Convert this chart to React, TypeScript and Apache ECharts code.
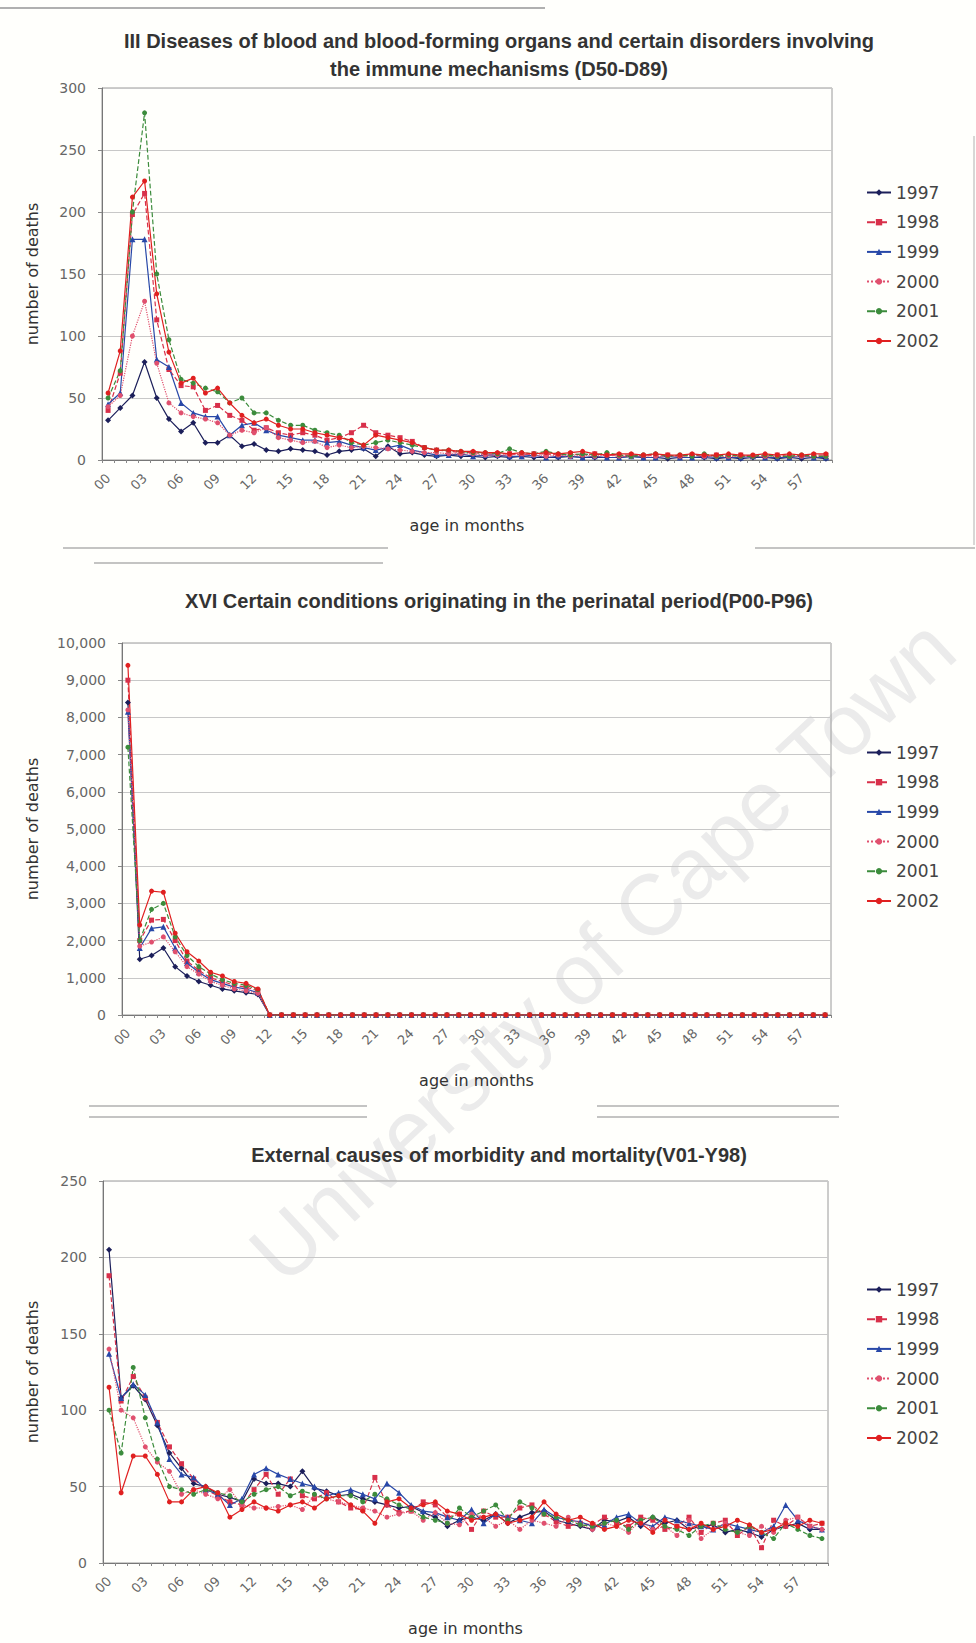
import React, { useEffect, useRef } from "react";
import * as echarts from "echarts";

// ---------- categories & labels ----------
const months = [
  "00","01","02","03","04","05","06","07","08","09",
  "10","11","12","13","14","15","16","17","18","19",
  "20","21","22","23","24","25","26","27","28","29",
  "30","31","32","33","34","35","36","37","38","39",
  "40","41","42","43","44","45","46","47","48","49",
  "50","51","52","53","54","55","56","57","58","59",
];
const years = ["1997", "1998", "1999", "2000", "2001", "2002"];

const titles = [
  "III Diseases of blood and blood-forming organs and certain disorders involving\nthe immune mechanisms (D50-D89)",
  "XVI Certain conditions originating in the perinatal period(P00-P96)",
  "External causes of morbidity and mortality(V01-Y98)",
];
const xName = "age in months";
const yName = "number of deaths";
const watermark = "University of Cape Town";

// ---------- chart 1: D50-D89 ----------
const d1_1997 = [32,42,52,79,50,33,23,30,14,14,20,11,13,8,7,9,8,7,4,7,8,9,3,11,5,6,4,3,4,3,3,2,3,2,3,2,2,2,3,2,2,2,2,3,2,2,1,2,2,2,1,2,1,2,2,1,2,1,2,1];
const d1_1998 = [40,70,198,215,113,73,60,59,40,44,36,32,24,26,22,20,22,20,16,18,22,28,22,20,18,15,10,8,7,6,6,5,5,5,4,5,5,4,5,4,5,4,4,4,3,4,4,3,4,3,4,3,4,3,3,4,3,3,4,4];
const d1_1999 = [45,54,178,178,81,75,46,38,35,35,20,28,30,24,20,18,16,16,14,15,12,10,8,10,12,8,6,4,4,5,3,4,4,3,3,4,2,3,3,2,3,2,2,3,2,2,3,2,2,3,2,2,2,3,2,2,2,3,2,2];
const d1_2000 = [43,52,100,128,78,46,38,35,33,30,20,24,22,26,18,16,14,15,10,12,10,11,10,9,8,7,6,6,5,5,5,4,4,4,5,4,3,4,3,4,3,4,3,3,4,3,3,3,4,3,3,3,3,3,3,3,3,3,3,3];
const d1_2001 = [50,72,200,280,150,97,65,62,58,55,46,50,38,38,32,28,28,24,22,20,14,12,14,16,14,12,10,8,8,7,6,6,5,9,6,5,7,5,4,5,4,6,4,3,4,5,3,4,3,5,3,4,3,3,4,3,3,4,3,3];
const d1_2002 = [54,88,212,225,134,87,62,66,54,58,46,36,30,33,28,25,25,22,20,18,16,12,20,18,16,14,10,8,8,7,7,6,6,5,6,5,6,5,6,7,5,4,5,5,4,5,4,4,5,4,4,5,4,4,5,4,5,4,5,5];

// ---------- chart 2: P00-P96 ----------
const d2_1997 = [8400,1500,1600,1800,1300,1050,900,800,700,650,600,550,0,0,0,0,0,0,0,0,0,0,0,0,0,0,0,0,0,0,0,0,0,0,0,0,0,0,0,0,0,0,0,0,0,0,0,0,0,0,0,0,0,0,0,0,0,0,0,0];
const d2_1998 = [9000,2000,2550,2570,2000,1450,1200,1000,900,800,750,650,0,0,0,0,0,0,0,0,0,0,0,0,0,0,0,0,0,0,0,0,0,0,0,0,0,0,0,0,0,0,0,0,0,0,0,0,0,0,0,0,0,0,0,0,0,0,0,0];
const d2_1999 = [8150,1800,2330,2370,1800,1400,1150,950,850,750,700,600,0,0,0,0,0,0,0,0,0,0,0,0,0,0,0,0,0,0,0,0,0,0,0,0,0,0,0,0,0,0,0,0,0,0,0,0,0,0,0,0,0,0,0,0,0,0,0,0];
const d2_2000 = [8200,1850,1960,2100,1700,1300,1100,900,800,700,650,580,0,0,0,0,0,0,0,0,0,0,0,0,0,0,0,0,0,0,0,0,0,0,0,0,0,0,0,0,0,0,0,0,0,0,0,0,0,0,0,0,0,0,0,0,0,0,0,0];
const d2_2001 = [7200,2000,2840,3000,2100,1600,1300,1100,950,850,800,680,0,0,0,0,0,0,0,0,0,0,0,0,0,0,0,0,0,0,0,0,0,0,0,0,0,0,0,0,0,0,0,0,0,0,0,0,0,0,0,0,0,0,0,0,0,0,0,0];
const d2_2002 = [9400,2420,3330,3300,2200,1700,1450,1150,1050,900,850,700,0,0,0,0,0,0,0,0,0,0,0,0,0,0,0,0,0,0,0,0,0,0,0,0,0,0,0,0,0,0,0,0,0,0,0,0,0,0,0,0,0,0,0,0,0,0,0,0];

// ---------- chart 3: V01-Y98 ----------
const d3_1997 = [205,108,116,107,90,72,62,52,50,45,43,40,55,52,52,50,60,49,47,44,45,42,40,38,36,37,33,30,24,28,30,28,32,26,30,33,34,28,26,24,22,28,27,30,24,30,26,28,22,24,25,20,22,20,17,22,24,26,22,22];
const d3_1998 = [188,106,122,108,92,76,65,55,48,44,40,38,48,58,45,55,44,42,46,40,36,35,56,38,33,34,40,38,30,32,22,34,30,30,36,38,32,27,24,26,25,30,26,24,30,28,22,24,30,20,26,28,18,24,10,28,24,30,24,26];
const d3_1999 = [137,108,117,110,92,68,58,56,48,45,38,42,58,62,58,55,52,50,44,46,48,45,42,52,46,38,34,33,30,28,35,26,32,30,28,26,35,30,28,27,24,25,30,32,26,24,30,28,26,24,22,26,24,22,20,24,38,28,24,22];
const d3_2000 = [140,100,95,76,66,60,45,48,45,42,48,38,36,36,37,38,35,44,42,40,38,36,34,30,32,34,28,33,26,25,32,30,24,28,22,28,26,24,30,25,22,26,24,20,28,22,24,18,28,16,22,26,20,18,24,20,28,30,24,22];
const d3_2001 = [100,72,128,95,68,50,48,45,48,46,44,40,45,48,50,44,47,45,42,44,44,40,45,42,38,35,30,28,26,36,30,34,38,28,40,36,32,30,28,25,24,26,28,22,28,30,24,22,18,24,26,22,20,24,20,16,26,22,18,16];
const d3_2002 = [115,46,70,70,58,40,40,48,50,46,30,35,40,36,34,38,40,36,42,44,38,34,26,40,42,36,38,40,34,32,28,30,32,26,28,30,40,32,28,30,26,22,24,28,26,20,28,24,22,26,22,24,28,25,20,22,26,24,28,26];

const chartData = [
  [d1_1997, d1_1998, d1_1999, d1_2000, d1_2001, d1_2002],
  [d2_1997, d2_1998, d2_1999, d2_2000, d2_2001, d2_2002],
  [d3_1997, d3_1998, d3_1999, d3_2000, d3_2001, d3_2002],
];
const yMax = [300, 10000, 250];
const yInterval = [50, 1000, 50];

// ---------- styles / layout ----------
const COLORS = ["#1c1f5a", "#d8304a", "#2848a8", "#e0506e", "#3c8c3c", "#e02020"];
const SYMBOLS = ["diamond", "rect", "triangle", "circle", "circle", "circle"];
const DASH = ["solid", "dashed", "solid", "dotted", "dashed", "solid"];
const GRIDS = [
  { left: 102, top: 88, width: 730, height: 372 },
  { left: 122, top: 643, width: 709, height: 372 },
  { left: 103, top: 1181, width: 725, height: 382 },
];
const TITLE_TOPS = [22, 582, 1136];
const LEGEND_TOPS = [179, 739, 1276];
const YNAME_GAPS = [62, 82, 63];
const FONT = "DejaVu Sans";

function fmt(v: number) {
  return v >= 1000 ? v.toLocaleString("en-US") : String(v);
}

export default function App() {
  const ref = useRef<HTMLDivElement>(null);
  useEffect(() => {
    if (!ref.current) return;
    const chart = echarts.init(ref.current, null, { renderer: "svg" });

    const series: any[] = [];
    chartData.forEach((set, c) => {
      set.forEach((arr, k) => {
        series.push({
          name: years[k],
          type: "line",
          xAxisIndex: c,
          yAxisIndex: c,
          data: arr,
          symbol: SYMBOLS[k],
          symbolSize: k === 0 || k === 2 ? 6 : 5,
          showSymbol: true,
          itemStyle: { color: COLORS[k] },
          lineStyle: { color: COLORS[k], width: 1.2, type: DASH[k] },
          z: 3,
        });
      });
    });

    const sepLine = (x1: number, y1: number, x2: number, y2: number, w = 1.5) => ({
      type: "line",
      shape: { x1, y1, x2, y2 },
      style: { stroke: "#b0b0b0", lineWidth: w },
      z: 0,
    });

    const option: any = {
      animation: false,
      backgroundColor: "#fffffc",
      title: titles.map((t, i) => ({
        text: t,
        left: 494,
        top: TITLE_TOPS[i],
        textAlign: "center",
        textStyle: {
          fontFamily: "Liberation Sans",
          fontWeight: "bold",
          fontSize: 20,
          lineHeight: 28,
          color: "#333",
        },
      })),
      legend: LEGEND_TOPS.map((top) => ({
        data: years,
        orient: "vertical",
        left: 861,
        top,
        itemWidth: 24,
        itemHeight: 8,
        itemGap: 12.7,
        textStyle: { fontFamily: FONT, fontSize: 17, color: "#444", lineHeight: 16 },
      })),
      grid: GRIDS.map((g) => ({
        ...g,
        show: true,
        borderColor: "#9a9a9a",
        borderWidth: 1,
        backgroundColor: "transparent",
      })),
      xAxis: GRIDS.map((_, c) => ({
        type: "category",
        gridIndex: c,
        data: months,
        boundaryGap: true,
        name: xName,
        nameLocation: "middle",
        nameGap: 57,
        nameTextStyle: { fontFamily: FONT, fontSize: 16, color: "#333" },
        axisLine: { lineStyle: { color: "#777" } },
        axisTick: { show: true, interval: 0, length: 3, lineStyle: { color: "#888" } },
        axisLabel: {
          interval: 2,
          rotate: 45,
          fontFamily: FONT,
          fontSize: 13,
          color: "#666",
          margin: 16,
        },
      })),
      yAxis: GRIDS.map((_, c) => ({
        type: "value",
        gridIndex: c,
        min: 0,
        max: yMax[c],
        interval: yInterval[c],
        name: yName,
        nameLocation: "middle",
        nameGap: YNAME_GAPS[c],
        nameTextStyle: { fontFamily: FONT, fontSize: 16, color: "#333" },
        axisLine: { show: true, lineStyle: { color: "#777" } },
        axisTick: { show: true, length: 4, lineStyle: { color: "#888" } },
        axisLabel: {
          fontFamily: FONT,
          fontSize: 14,
          color: "#666",
          margin: 16,
          formatter: (v: number) => fmt(v),
        },
        splitLine: { show: true, lineStyle: { color: "#c8c8c8", width: 1 } },
      })),
      graphic: [
        {
          type: "text",
          x: 602,
          y: 950,
          rotation: (43 * Math.PI) / 180,
          z: -1,
          style: {
            text: watermark,
            fontFamily: "Liberation Sans",
            fontSize: 86,
            fill: "#ebebeb",
            textAlign: "center",
            textVerticalAlign: "middle",
          },
        },
        sepLine(0, 8, 545, 8, 2),
        sepLine(63, 548, 388, 548),
        sepLine(94, 563, 383, 563),
        sepLine(755, 548, 975, 548),
        sepLine(89, 1106, 367, 1106),
        sepLine(89, 1117, 367, 1117),
        sepLine(597, 1106, 839, 1106),
        sepLine(597, 1117, 839, 1117),
        sepLine(974, 136, 974, 545, 1),
      ],
      series,
    };
    chart.setOption(option);
    return () => chart.dispose();
  }, []);

  return (
    <div
      ref={ref}
      style={{ position: "absolute", left: 0, top: 0, width: 976, height: 1643 }}
    />
  );
}
